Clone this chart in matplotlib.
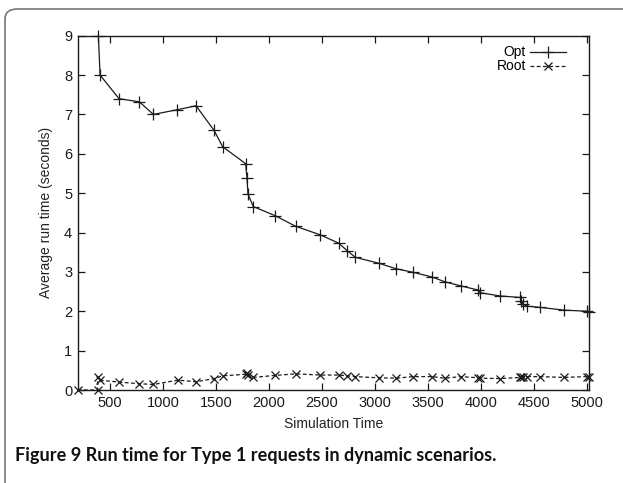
import matplotlib
matplotlib.use("Agg")
import matplotlib.pyplot as plt
from matplotlib.patches import FancyBboxPatch
from matplotlib.lines import Line2D

# Opt series (solid, "+")
opt_x = [390, 406, 585, 777, 909, 1135, 1311, 1480, 1562, 1779, 1792, 1801,
         1851, 2056, 2250, 2484, 2657, 2736, 2814, 3035, 3198, 3358, 3538,
         3657, 3814, 3972, 3994, 4176, 4371, 4381, 4396, 4434, 4553, 4780,
         5000, 5015]
opt_y = [9.0, 8.0, 7.4, 7.32, 7.0, 7.12, 7.22, 6.6, 6.18, 5.75, 5.38, 4.98,
         4.66, 4.43, 4.16, 3.94, 3.73, 3.54, 3.37, 3.22, 3.08, 2.99, 2.87,
         2.75, 2.64, 2.54, 2.47, 2.39, 2.35, 2.25, 2.18, 2.13, 2.10, 2.03,
         2.0, 1.98]

# Root series (dashed, "x")
root_x = [195, 384, 384, 406, 588, 777, 909, 1138, 1311, 1484, 1562, 1779,
          1795, 1804, 1851, 2056, 2250, 2484, 2657, 2736, 2814, 3035, 3198,
          3358, 3538, 3657, 3814, 3972, 3994, 4176, 4371, 4381, 4396, 4434,
          4553, 4780, 5000, 5015]
root_y = [0.0, 0.0, 0.34, 0.25, 0.20, 0.16, 0.14, 0.25, 0.21, 0.29, 0.36,
          0.40, 0.42, 0.37, 0.32, 0.37, 0.41, 0.38, 0.38, 0.36, 0.34, 0.31,
          0.30, 0.34, 0.34, 0.30, 0.34, 0.31, 0.30, 0.29, 0.32, 0.32, 0.34,
          0.34, 0.34, 0.32, 0.34, 0.32]

x_ticks = [500, 1000, 1500, 2000, 2500, 3000, 3500, 4000, 4500, 5000]
y_ticks = list(range(0, 10))

plt.rcParams["font.family"] = ["Liberation Sans", "DejaVu Sans"]

fig = plt.figure(figsize=(6.23, 4.83), dpi=100)

# open rounded frame around the figure (only top and left visible)
frame = FancyBboxPatch((5 / 623, -0.2), 1.2, 1.2 - 9 / 483,
                       boxstyle="round,pad=0,rounding_size=0.02",
                       transform=fig.transFigure, fill=False,
                       edgecolor="#777777", linewidth=1.2)
fig.patches.append(frame)

ax = fig.add_axes([77.7 / 623, 1 - 390 / 483, (588.7 - 77.7) / 623,
                   (390 - 35.7) / 483])

col = "#1a1a1a"
ax.plot(opt_x, opt_y, color=col, linewidth=0.9, marker="+",
        markersize=8, markeredgewidth=0.9, label="Opt", clip_on=False)
ax.plot(root_x, root_y, color=col, linewidth=0.9, linestyle=(0, (3, 2)),
        marker="x", markersize=6, markeredgewidth=0.9, label="Root",
        clip_on=False)

ax.set_xlim(195, 5015)
ax.set_ylim(0, 9)
ax.set_xticks(x_ticks)
ax.set_yticks(y_ticks)
ax.tick_params(direction="in", length=5, width=0.9, top=True, right=True,
               labelsize=10.5, colors=col, pad=4)
for s in ax.spines.values():
    s.set_linewidth(1.0)
    s.set_color(col)

ax.set_xlabel("Simulation Time", fontsize=10, color="#222222", labelpad=5)
ax.set_ylabel("Average run time (seconds)", fontsize=10, color="#222222",
              labelpad=8)

# gnuplot style key: text right aligned, sample line to the right
handles = [Line2D([], [], color=col, linewidth=0.9, marker="+",
                  markersize=8, markeredgewidth=0.9),
           Line2D([], [], color=col, linewidth=0.9, linestyle=(0, (3, 2)),
                  marker="x", markersize=6, markeredgewidth=0.9)]
leg = ax.legend(handles, ["Opt", "Root"], loc="upper right",
                frameon=False, markerfirst=False, fontsize=10,
                handlelength=2.6, handletextpad=0.3, labelspacing=0.0,
                borderaxespad=0.3, bbox_to_anchor=(0.975, 1.0))
for t in leg.get_texts():
    t.set_ha("right")

fig.text(15 / 623, 1 - 455 / 483,
         "Figure 9 Run time for Type 1 requests in dynamic scenarios.",
         fontsize=13.1, fontweight="bold", family=["Lato", "DejaVu Sans"],
         va="center", ha="left", color="#111111")

fig.savefig("out.png", dpi=100)
